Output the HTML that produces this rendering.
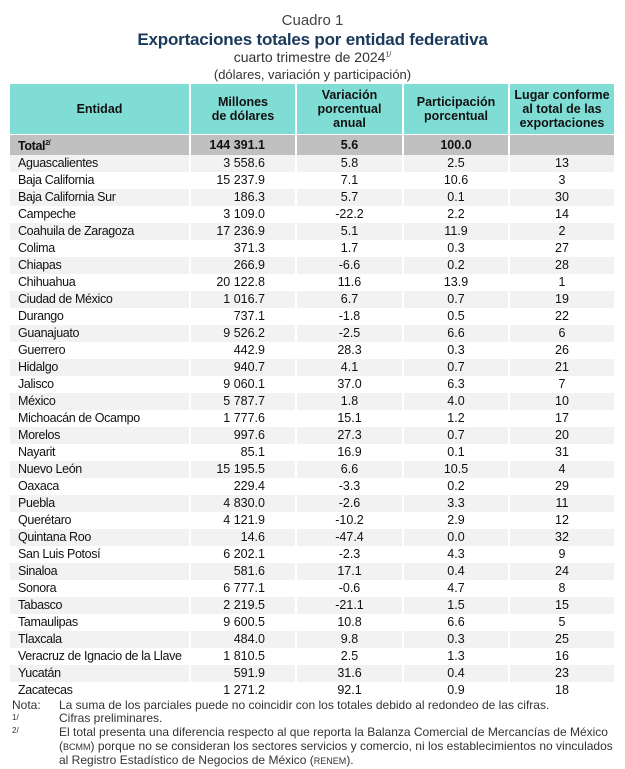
<!DOCTYPE html>
<html><head><meta charset="utf-8"><style>
body{margin:0;width:625px;height:757px;overflow:hidden;background:#fff;font-family:"Liberation Sans",Arial,sans-serif;color:#111;}
.t{position:absolute;left:0;width:625px;text-align:center;}
table{position:absolute;left:8px;top:84px;border-collapse:collapse;table-layout:fixed;width:605px;font-size:12.5px;}
td,th{padding:0;border-left:2px solid #fff;height:17px;line-height:17px;white-space:nowrap;overflow:hidden;}
th{background:#80ddd5;height:50px;line-height:14px;font-size:12.5px;font-weight:bold;}
td:nth-child(1){padding-left:8px;text-align:left;letter-spacing:-0.35px;}
td:nth-child(2){text-align:right;padding-right:30px;}
td:nth-child(3),td:nth-child(4),td:nth-child(5){text-align:center;}
tr.tot td{background:#c0c0c0;font-weight:bold;border-top:1px solid #fff;}
tr:nth-child(odd) td{background:#f2f2f2;}
tr:nth-child(even) td{background:#fff;}
tr.tot td{background:#c0c0c0 !important;}
sup{font-size:7px;}
.n{position:absolute;font-size:12px;color:#333;line-height:13.5px;}
</style></head><body>
<div class="t" style="top:12px;font-size:15px;color:#444;">Cuadro 1</div>
<div class="t" style="top:30px;font-size:17px;font-weight:bold;color:#1a3a5c;letter-spacing:-0.2px;">Exportaciones totales por entidad federativa</div>
<div class="t" style="top:49px;font-size:14px;color:#333;">cuarto trimestre de 2024<sup>1/</sup></div>
<div class="t" style="top:67px;font-size:13px;color:#333;">(dólares, variación y participación)</div>
<table>
<colgroup><col style="width:181px"><col style="width:106px"><col style="width:107px"><col style="width:106px"><col style="width:105px"></colgroup>
<tr><th>Entidad</th><th>Millones<br>de dólares</th><th>Variación<br>porcentual<br>anual</th><th>Participación<br>porcentual</th><th>Lugar conforme<br>al total de las<br>exportaciones</th></tr>
<tr class="tot"><td>Total<sup>2/</sup></td><td>144 391.1</td><td>5.6</td><td>100.0</td><td></td></tr>
<tr><td>Aguascalientes</td><td>3 558.6</td><td>5.8</td><td>2.5</td><td>13</td></tr>
<tr><td>Baja California</td><td>15 237.9</td><td>7.1</td><td>10.6</td><td>3</td></tr>
<tr><td>Baja California Sur</td><td>186.3</td><td>5.7</td><td>0.1</td><td>30</td></tr>
<tr><td>Campeche</td><td>3 109.0</td><td>-22.2</td><td>2.2</td><td>14</td></tr>
<tr><td>Coahuila de Zaragoza</td><td>17 236.9</td><td>5.1</td><td>11.9</td><td>2</td></tr>
<tr><td>Colima</td><td>371.3</td><td>1.7</td><td>0.3</td><td>27</td></tr>
<tr><td>Chiapas</td><td>266.9</td><td>-6.6</td><td>0.2</td><td>28</td></tr>
<tr><td>Chihuahua</td><td>20 122.8</td><td>11.6</td><td>13.9</td><td>1</td></tr>
<tr><td>Ciudad de México</td><td>1 016.7</td><td>6.7</td><td>0.7</td><td>19</td></tr>
<tr><td>Durango</td><td>737.1</td><td>-1.8</td><td>0.5</td><td>22</td></tr>
<tr><td>Guanajuato</td><td>9 526.2</td><td>-2.5</td><td>6.6</td><td>6</td></tr>
<tr><td>Guerrero</td><td>442.9</td><td>28.3</td><td>0.3</td><td>26</td></tr>
<tr><td>Hidalgo</td><td>940.7</td><td>4.1</td><td>0.7</td><td>21</td></tr>
<tr><td>Jalisco</td><td>9 060.1</td><td>37.0</td><td>6.3</td><td>7</td></tr>
<tr><td>México</td><td>5 787.7</td><td>1.8</td><td>4.0</td><td>10</td></tr>
<tr><td>Michoacán de Ocampo</td><td>1 777.6</td><td>15.1</td><td>1.2</td><td>17</td></tr>
<tr><td>Morelos</td><td>997.6</td><td>27.3</td><td>0.7</td><td>20</td></tr>
<tr><td>Nayarit</td><td>85.1</td><td>16.9</td><td>0.1</td><td>31</td></tr>
<tr><td>Nuevo León</td><td>15 195.5</td><td>6.6</td><td>10.5</td><td>4</td></tr>
<tr><td>Oaxaca</td><td>229.4</td><td>-3.3</td><td>0.2</td><td>29</td></tr>
<tr><td>Puebla</td><td>4 830.0</td><td>-2.6</td><td>3.3</td><td>11</td></tr>
<tr><td>Querétaro</td><td>4 121.9</td><td>-10.2</td><td>2.9</td><td>12</td></tr>
<tr><td>Quintana Roo</td><td>14.6</td><td>-47.4</td><td>0.0</td><td>32</td></tr>
<tr><td>San Luis Potosí</td><td>6 202.1</td><td>-2.3</td><td>4.3</td><td>9</td></tr>
<tr><td>Sinaloa</td><td>581.6</td><td>17.1</td><td>0.4</td><td>24</td></tr>
<tr><td>Sonora</td><td>6 777.1</td><td>-0.6</td><td>4.7</td><td>8</td></tr>
<tr><td>Tabasco</td><td>2 219.5</td><td>-21.1</td><td>1.5</td><td>15</td></tr>
<tr><td>Tamaulipas</td><td>9 600.5</td><td>10.8</td><td>6.6</td><td>5</td></tr>
<tr><td>Tlaxcala</td><td>484.0</td><td>9.8</td><td>0.3</td><td>25</td></tr>
<tr><td>Veracruz de Ignacio de la Llave</td><td>1 810.5</td><td>2.5</td><td>1.3</td><td>16</td></tr>
<tr><td>Yucatán</td><td>591.9</td><td>31.6</td><td>0.4</td><td>23</td></tr>
<tr><td>Zacatecas</td><td>1 271.2</td><td>92.1</td><td>0.9</td><td>18</td></tr>
</table>
<div class="n" style="left:12px;top:699px;">Nota:</div>
<div class="n" style="left:59px;top:699px;">La suma de los parciales puede no coincidir con los totales debido al redondeo de las cifras.</div>
<div class="n" style="left:12px;top:711px;font-size:8px;">1/</div>
<div class="n" style="left:59px;top:712px;">Cifras preliminares.</div>
<div class="n" style="left:12px;top:724px;font-size:8px;">2/</div>
<div class="n" style="left:59px;top:726px;width:566px;white-space:nowrap;">El total presenta una diferencia respecto al que reporta la Balanza Comercial de Mercancías de México<br>(<span style="font-size:9px">BCMM</span>) porque no se consideran los sectores servicios y comercio, ni los establecimientos no vinculados<br>al Registro Estadístico de Negocios de México (<span style="font-size:9px">RENEM</span>).</div>
</body></html>
